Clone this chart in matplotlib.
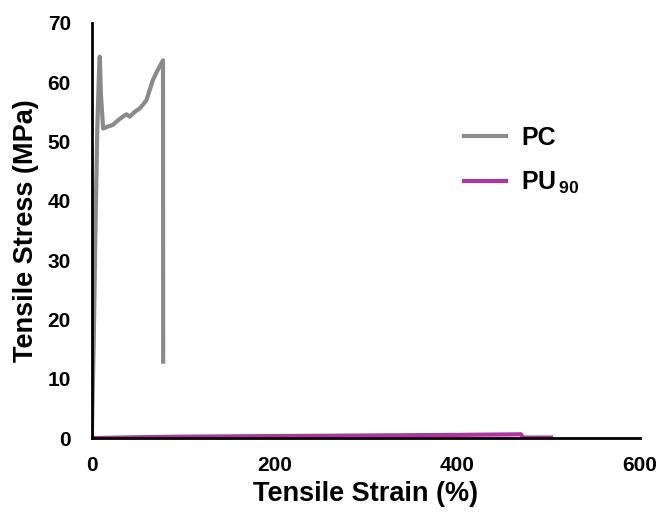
import numpy as np
from matplotlib import pyplot as plt

plt.rcParams['font.family'] = ['Liberation Sans', 'DejaVu Sans']
plt.rcParams['mathtext.fontset'] = 'custom'
plt.rcParams['mathtext.rm'] = 'Liberation Sans:bold'
plt.rcParams['mathtext.bf'] = 'Liberation Sans:bold'

# PC curve (strain %, stress MPa)
pc_strain = [0, 2, 4, 6, 8, 8.8, 10, 12.4, 17, 23, 28, 34, 38, 41.6, 47, 52.6, 56, 59.9, 63, 67, 72, 78, 78.2]
pc_stress = [0, 15, 35, 52, 62, 64.3, 58, 52.2, 52.5, 52.8, 53.5, 54.2, 54.6, 54.2, 55, 55.6, 56.2, 57, 58.5, 60.4, 62, 63.7, 12.9]

# PU90 curve
pu_strain = [0, 50, 100, 200, 300, 400, 470, 472, 503]
pu_stress = [0, 0.15, 0.25, 0.35, 0.45, 0.55, 0.65, 0.1, 0.1]

fig = plt.figure(figsize=(6.65, 5.21), dpi=100)
ax = fig.add_axes([0.138, 0.159, 0.824, 0.797])

ax.plot(pc_strain, pc_stress, color='#8a8a8a', linewidth=3, label='PC', solid_joinstyle='round')
ax.plot(pu_strain, pu_stress, color='#b0359c', linewidth=3, label=r'PU$_{\,\mathbf{90}}$')

ax.set_xlim(0, 600)
ax.set_ylim(0, 70)
ax.set_xticks([0, 200, 400, 600])
ax.set_yticks(range(0, 80, 10))
ax.tick_params(length=0, labelsize=15)
ax.tick_params(axis='x', pad=13)
ax.tick_params(axis='y', pad=15)
for lab in ax.get_xticklabels() + ax.get_yticklabels():
    lab.set_fontweight('bold')

for s in ['top', 'right']:
    ax.spines[s].set_visible(False)
for s in ['left', 'bottom']:
    ax.spines[s].set_linewidth(2)
    ax.spines[s].set_color('black')

ax.set_xlabel('Tensile Strain (%)', fontsize=19.5, fontweight='bold', labelpad=4)
ax.set_ylabel('Tensile Stress (MPa)', fontsize=19.5, fontweight='bold', labelpad=6)

leg = ax.legend(loc='upper left', bbox_to_anchor=(0.68, 0.752), frameon=False,
                prop={'weight': 'bold', 'size': 18}, handlelength=1.67, handletextpad=0.6,
                labelspacing=0.78, borderpad=0, borderaxespad=0)

plt.savefig('out.png')
